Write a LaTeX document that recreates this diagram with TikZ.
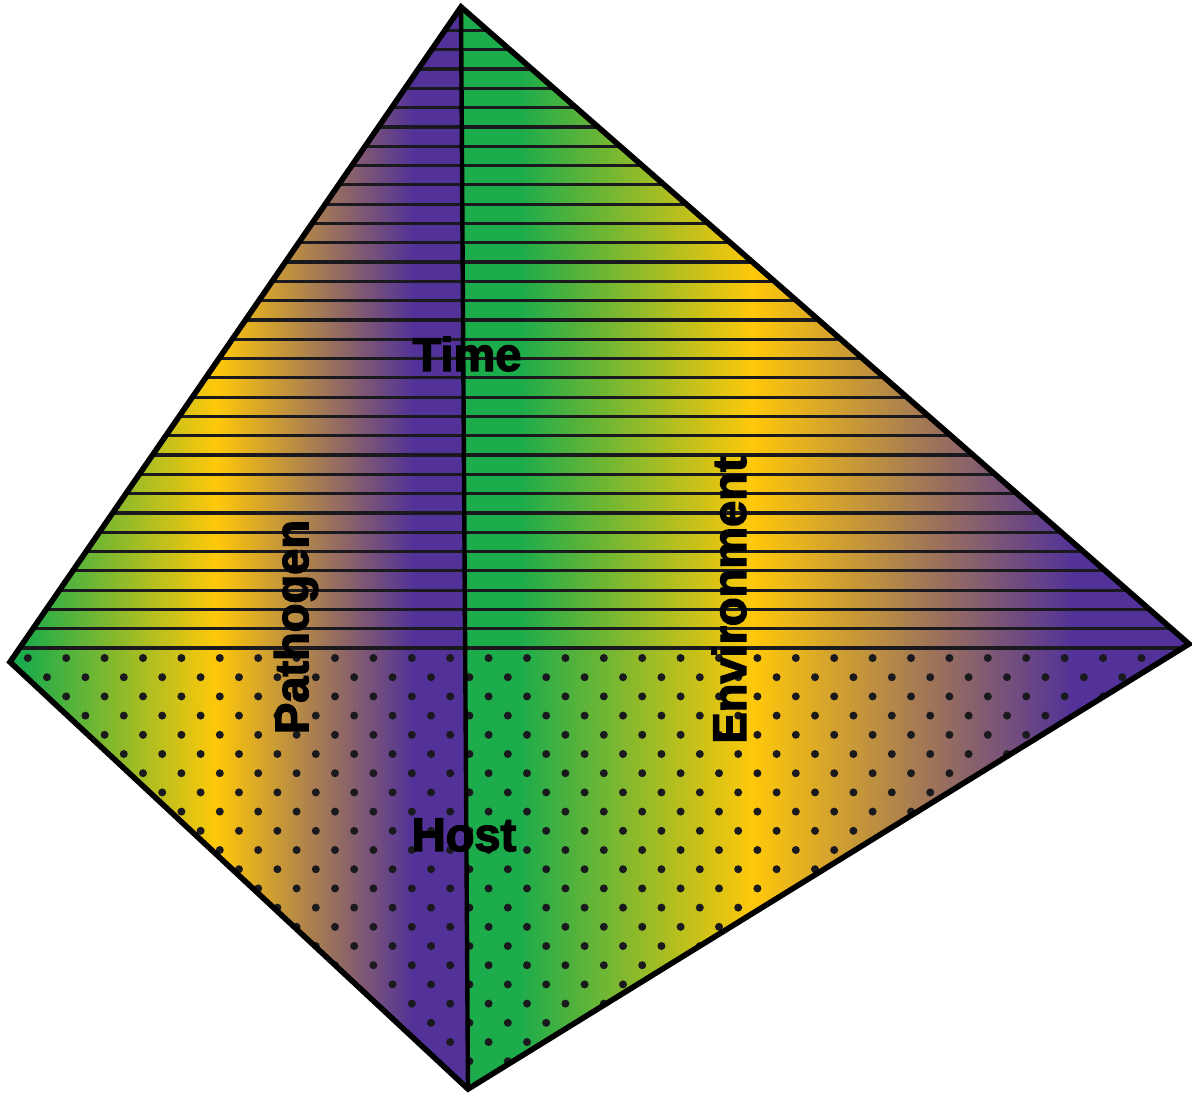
\documentclass[tikz,border=0pt]{standalone}
\usepackage{fontspec}
\newfontfamily\tagfont{Liberation Sans}[FakeBold=3]
\usetikzlibrary{calc}
\definecolor{leaf}{RGB}{28,172,75}
\definecolor{gold}{RGB}{255,200,10}
\definecolor{grape}{RGB}{82,50,152}
\definecolor{ink}{RGB}{25,25,30}
% colour bands run left to right over each half
\pgfdeclarehorizontalshading{pathogenside}{100bp}{color(0bp)=(leaf); color(26.5bp)=(leaf);
  color(47.5bp)=(gold); color(69bp)=(grape); color(100bp)=(grape)}
\pgfdeclarehorizontalshading{envside}{100bp}{color(0bp)=(leaf); color(29bp)=(leaf);
  color(45bp)=(gold); color(67bp)=(grape); color(100bp)=(grape)}
\tikzset{
  rim/.style={draw=black,line width=2.8pt,line join=miter},
  spine/.style={draw=black,line width=2.2pt},
  stripe/.style={draw=ink,line width=1.6pt},
  speck/.style={fill=ink},
  factor/.style={font=\tagfont\bfseries\fontsize{23.5}{23.5}\selectfont,text=black,inner sep=0pt},
}
\begin{document}
\begin{tikzpicture}[x=0.5pt,y=-0.5pt]
  \useasboundingbox (0,0) rectangle (1192,1093);
  \coordinate (top) at (461,7);
  \coordinate (left) at (10,662);
  \coordinate (right) at (1189,644);
  \coordinate (bottom) at (468,1089);
  % faces
  \shade[shading=pathogenside] (top) -- (left) -- (bottom) -- cycle;
  \shade[shading=envside] (top) -- (right) -- (bottom) -- cycle;
  \begin{scope}
    \clip (top) -- (right) -- (bottom) -- (left) -- cycle;
    \foreach \k in {0,...,32}
      \draw[stripe] (0,{648-19.3*\k}) -- (1192,{648-19.3*\k});
    \foreach \j [evaluate=\j as \xo using {ifthenelse(mod(\j,2)==1,8.6,27.8)}] in {0,...,22}
      \foreach \i in {0,...,30}
        \fill[speck] ({\xo+38.4*\i},{658+19.2*\j}) circle (2pt);
  \end{scope}
  \draw[spine] (top) -- (bottom);
  \draw[rim] (top) -- (right) -- (bottom) -- (left) -- cycle;
  % labels
  \node[factor] (time) at (467,354) {Time};
  \node[factor] (host) at (464,835) {Host};
  \node[factor,rotate=90] (pathogen) at (296,627) {Pathogen};
  \node[factor,rotate=90] (environment) at (729,600) {Environment};
\end{tikzpicture}
\end{document}
